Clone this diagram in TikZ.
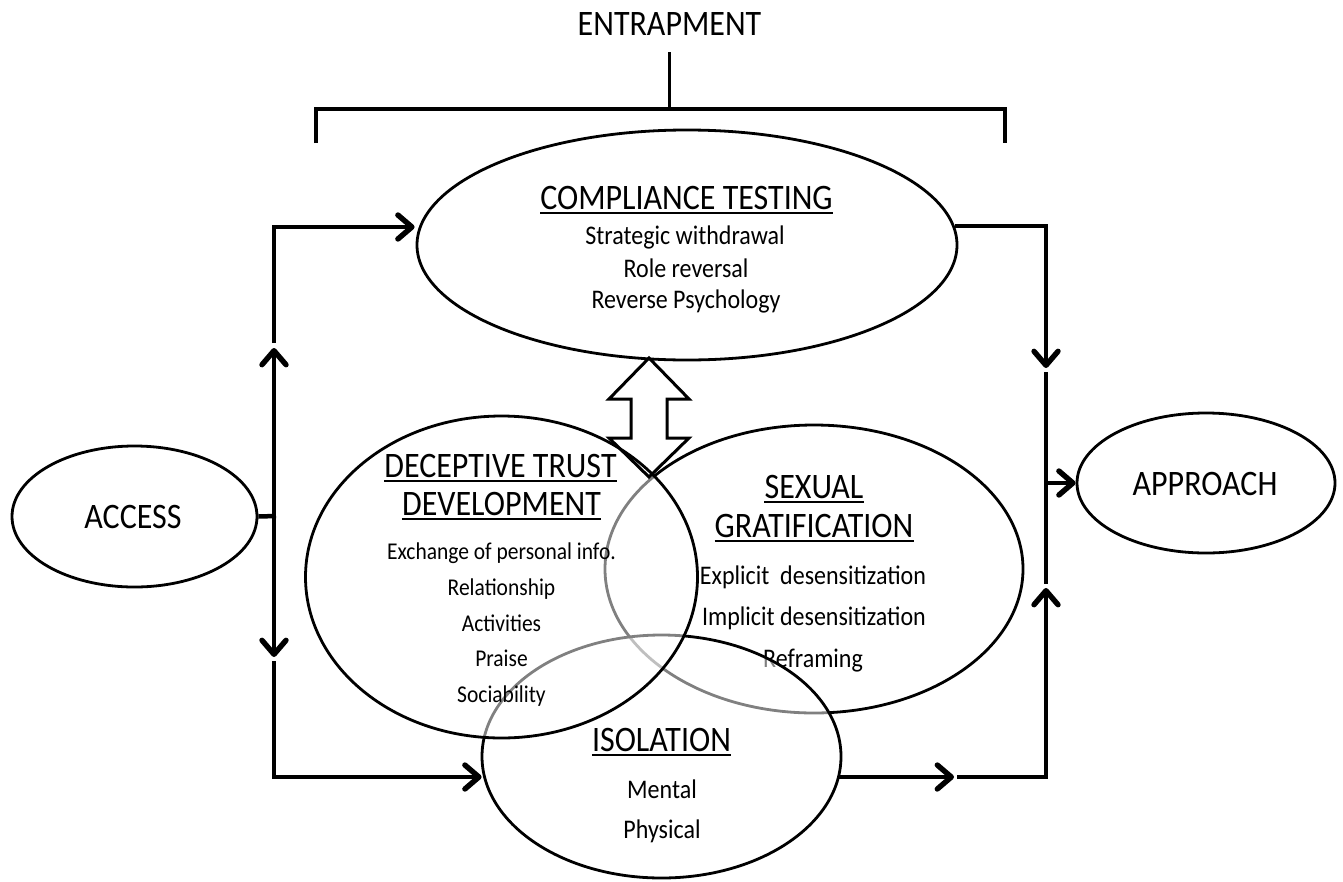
\documentclass[tikz,border=0pt]{standalone}
\usepackage{fontspec}
\setmainfont{Carlito}
\usetikzlibrary{arrows.meta,calc,positioning,shapes.geometric}

\newcommand{\tallt}[1]{\scalebox{1}[1.12]{#1}}

\tikzset{
  oval/.style={ellipse, draw, line width=2.8pt, inner sep=0pt, fill=white, fill opacity=0.5, text opacity=1},
  conn/.style={line width=4.5pt},
  arr/.style={-{Straight Barb[length=14pt,width=24pt,line width=0pt 1.2,round]}},
  headtxt/.style={font=\fontsize{32pt}{38pt}\selectfont, inner sep=0pt, anchor=base},
  bodytxt/.style={font=\fontsize{24pt}{30pt}\selectfont, inner sep=0pt, anchor=base},
  smalltxt/.style={font=\fontsize{21.5pt}{26pt}\selectfont, inner sep=0pt, anchor=base},
  uline/.style={line width=1.8pt},
}

\begin{document}
\begin{tikzpicture}[x=1pt,y=-1pt]
                        \useasboundingbox (0,0) rectangle (1343,881);

                        % Marking point {entr}
                        \node [headtxt] (entr) at (669.5,35) {\tallt{ENTRAPMENT}};

                        % Drawing bracket
                        \draw [line width=3.5pt] (316,143) -- (316,109) -- (1005,109) -- (1005,143);
                        \draw [line width=3.5pt] (669.5,109) -- (669.5,52);

                        % Drawing ellipse ct
                        \node [oval, minimum width=540pt, minimum height=230pt] (ct) at (687,245) {};
                        \node [headtxt] (cth) at (686.5,209) {\tallt{COMPLIANCE TESTING}};
                        \node [bodytxt] (ct1) at (685,244) {\tallt{Strategic withdrawal}};
                        \node [bodytxt] (ct2) at (686,277) {\tallt{Role reversal}};
                        \node [bodytxt] (ct3) at (686,308) {\tallt{Reverse Psychology}};

                        % Drawing ellipse sg
                        \node [oval, minimum width=418pt, minimum height=288pt] (sg) at (814,569) {};
                        \node [headtxt] (sgh1) at (814,498) {\tallt{SEXUAL}};
                        \node [headtxt] (sgh2) at (814,537) {\tallt{GRATIFICATION}};
                        \node [bodytxt] (sg1) at (813,584) {\tallt{Explicit\ \ desensitization}};
                        \node [bodytxt] (sg2) at (814,625) {\tallt{Implicit desensitization}};
                        \node [bodytxt] (sg3) at (813,667) {\tallt{Reframing}};

                        % Drawing ellipse iso
                        \node [oval, minimum width=359pt, minimum height=243pt] (iso) at (661.5,756.5) {};

                        % Drawing ellipse dtd
                        \node [oval, minimum width=392pt, minimum height=322pt] (dtd) at (501.5,577) {};
                        \node [headtxt] (dth1) at (500.5,477) {\tallt{DECEPTIVE TRUST}};
                        \node [headtxt] (dth2) at (501.5,515) {\tallt{DEVELOPMENT}};
                        \node [smalltxt] (dt1) at (501.5,559) {\tallt{Exchange of personal info.}};
                        \node [smalltxt] (dt2) at (501.5,595) {\tallt{Relationship}};
                        \node [smalltxt] (dt3) at (501.5,631) {\tallt{Activities}};
                        \node [smalltxt] (dt4) at (501.5,666) {\tallt{Praise}};
                        \node [smalltxt] (dt5) at (501.5,702) {\tallt{Sociability}};

                        % Marking points of iso
                        \node [headtxt] (isoh) at (661.5,751) {\tallt{ISOLATION}};
                        \node [bodytxt] (iso1) at (662,798) {\tallt{Mental}};
                        \node [bodytxt] (iso2) at (662,838) {\tallt{Physical}};

                        % Drawing double arrow ct dtd
                        \draw [line width=3pt, line join=miter] (649,358) -- (689,399) -- (667,399) -- (667,438)
                          -- (689,438) -- (649,477) -- (609,438) -- (631,438) -- (631,399) -- (609,399) -- cycle;

                        % Drawing ellipses access and appr
                        \node [oval, minimum width=245pt, minimum height=141pt] (access) at (134.5,516.5) {};
                        \node [headtxt] (accesst) at (133,528) {\tallt{ACCESS}};
                        \node [oval, minimum width=258pt, minimum height=140pt] (appr) at (1206,483) {};
                        \node [headtxt] (apprt) at (1205,495) {\tallt{APPROACH}};

                        % Drawing connectors on the left
                        \coordinate (jl) at (274,516);
                        \coordinate (lu) at (274,348);
                        \coordinate (lu2) at (274,343);
                        \coordinate (lt) at (274,227);
                        \coordinate (ld) at (274,657);
                        \coordinate (ld2) at (274,661);
                        \coordinate (lb) at (274,777);
                        \draw [conn] (access.east) -- ([xshift=2pt]jl);
                        \draw [conn, arr] (jl) -- (lu);
                        \draw [conn, arr] (lu2) -- (lt) -- ([xshift=-1pt]ct.west |- lt);
                        \draw [conn, arr] (jl) -- (ld);
                        \draw [conn, arr] (ld2) -- (lb) -- ([xshift=1pt]iso.west |- lb);

                        % Drawing connectors on the right
                        \coordinate (rm) at (954,777);
                        \coordinate (rm2) at (957,777);
                        \coordinate (rb) at (1046,777);
                        \coordinate (ru) at (1046,588);
                        \coordinate (ru2) at (1046,584);
                        \coordinate (rt) at (1046,226);
                        \coordinate (rd) at (1046,368);
                        \coordinate (rd2) at (1046,372);
                        \coordinate (rj) at (1046,483);
                        \draw [conn, arr] ([xshift=-3pt]iso.east |- rb) -- (rm);
                        \draw [conn, arr] (rm2) -- (rb) -- (ru);
                        \draw [conn, arr] ([xshift=-3pt]ct.east |- rt) -- (rt) -- (rd);
                        \draw [conn] (rd2) -- (ru2);
                        \draw [conn, arr] (rj) -- (appr.west);

                        % Drawing underlines
                        \foreach \n in {cth,sgh1,sgh2,dth1,dth2,isoh}
                          \draw [uline] ([yshift=-4pt]\n.base west) -- ([yshift=-4pt]\n.base east);
\end{tikzpicture}
\end{document}
